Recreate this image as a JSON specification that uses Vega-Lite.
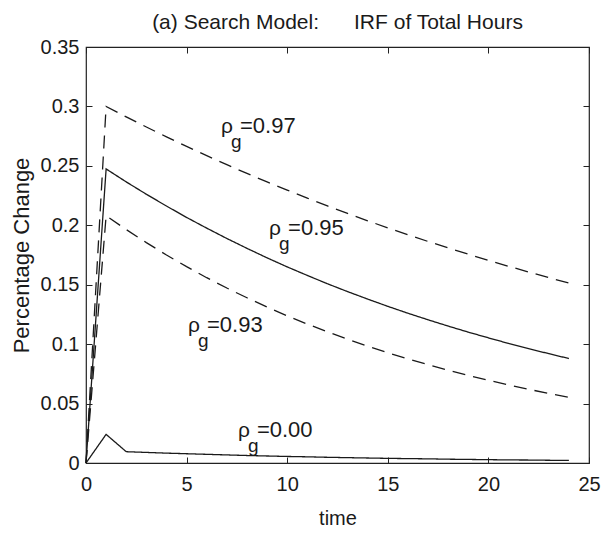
{
  "$schema": "https://vega.github.io/schema/vega-lite/v6.json",
  "width": 503,
  "height": 416,
  "autosize": {"type": "none"},
  "padding": {"left": 86, "top": 47, "right": 13, "bottom": 73},
  "background": "white",
  "title": {
    "text": "(a) Search Model:\u00a0\u00a0\u00a0\u00a0\u00a0\u00a0IRF of Total Hours",
    "fontSize": 21,
    "font": "Liberation Sans",
    "fontWeight": "normal",
    "color": "#1a1a1a",
    "offset": 4,
    "anchor": "middle"
  },
  "config": {
    "view": {"stroke": "#222222", "strokeWidth": 1.2},
    "axis": {
      "grid": false,
      "domain": false,
      "labelFlush": false,
      "tickColor": "#222222",
      "tickWidth": 1,
      "tickSize": -6,
      "labelFont": "Liberation Sans",
      "labelFontSize": 20,
      "labelColor": "#1a1a1a",
      "titleFont": "Liberation Sans",
      "titleFontSize": 20,
      "titleFontWeight": "normal",
      "titleColor": "#1a1a1a"
    },
    "text": {"font": "Liberation Sans", "color": "#1a1a1a"}
  },
  "datasets": {
    "irf": [
      {"t": 0, "v": 0, "rho": "0.97", "style": "dashed"},
      {"t": 1, "v": 0.3000, "rho": "0.97", "style": "dashed"},
      {"t": 2, "v": 0.2912, "rho": "0.97", "style": "dashed"},
      {"t": 3, "v": 0.2827, "rho": "0.97", "style": "dashed"},
      {"t": 4, "v": 0.2744, "rho": "0.97", "style": "dashed"},
      {"t": 5, "v": 0.2664, "rho": "0.97", "style": "dashed"},
      {"t": 6, "v": 0.2586, "rho": "0.97", "style": "dashed"},
      {"t": 7, "v": 0.2510, "rho": "0.97", "style": "dashed"},
      {"t": 8, "v": 0.2436, "rho": "0.97", "style": "dashed"},
      {"t": 9, "v": 0.2365, "rho": "0.97", "style": "dashed"},
      {"t": 10, "v": 0.2296, "rho": "0.97", "style": "dashed"},
      {"t": 11, "v": 0.2228, "rho": "0.97", "style": "dashed"},
      {"t": 12, "v": 0.2163, "rho": "0.97", "style": "dashed"},
      {"t": 13, "v": 0.2100, "rho": "0.97", "style": "dashed"},
      {"t": 14, "v": 0.2038, "rho": "0.97", "style": "dashed"},
      {"t": 15, "v": 0.1978, "rho": "0.97", "style": "dashed"},
      {"t": 16, "v": 0.1920, "rho": "0.97", "style": "dashed"},
      {"t": 17, "v": 0.1864, "rho": "0.97", "style": "dashed"},
      {"t": 18, "v": 0.1810, "rho": "0.97", "style": "dashed"},
      {"t": 19, "v": 0.1757, "rho": "0.97", "style": "dashed"},
      {"t": 20, "v": 0.1705, "rho": "0.97", "style": "dashed"},
      {"t": 21, "v": 0.1655, "rho": "0.97", "style": "dashed"},
      {"t": 22, "v": 0.1607, "rho": "0.97", "style": "dashed"},
      {"t": 23, "v": 0.1560, "rho": "0.97", "style": "dashed"},
      {"t": 24, "v": 0.1514, "rho": "0.97", "style": "dashed"},
      {"t": 0, "v": 0, "rho": "0.95", "style": "solid"},
      {"t": 1, "v": 0.2474, "rho": "0.95", "style": "solid"},
      {"t": 2, "v": 0.2365, "rho": "0.95", "style": "solid"},
      {"t": 3, "v": 0.2261, "rho": "0.95", "style": "solid"},
      {"t": 4, "v": 0.2162, "rho": "0.95", "style": "solid"},
      {"t": 5, "v": 0.2066, "rho": "0.95", "style": "solid"},
      {"t": 6, "v": 0.1976, "rho": "0.95", "style": "solid"},
      {"t": 7, "v": 0.1889, "rho": "0.95", "style": "solid"},
      {"t": 8, "v": 0.1806, "rho": "0.95", "style": "solid"},
      {"t": 9, "v": 0.1726, "rho": "0.95", "style": "solid"},
      {"t": 10, "v": 0.1650, "rho": "0.95", "style": "solid"},
      {"t": 11, "v": 0.1578, "rho": "0.95", "style": "solid"},
      {"t": 12, "v": 0.1508, "rho": "0.95", "style": "solid"},
      {"t": 13, "v": 0.1442, "rho": "0.95", "style": "solid"},
      {"t": 14, "v": 0.1379, "rho": "0.95", "style": "solid"},
      {"t": 15, "v": 0.1318, "rho": "0.95", "style": "solid"},
      {"t": 16, "v": 0.1260, "rho": "0.95", "style": "solid"},
      {"t": 17, "v": 0.1205, "rho": "0.95", "style": "solid"},
      {"t": 18, "v": 0.1152, "rho": "0.95", "style": "solid"},
      {"t": 19, "v": 0.1101, "rho": "0.95", "style": "solid"},
      {"t": 20, "v": 0.1053, "rho": "0.95", "style": "solid"},
      {"t": 21, "v": 0.1006, "rho": "0.95", "style": "solid"},
      {"t": 22, "v": 0.0962, "rho": "0.95", "style": "solid"},
      {"t": 23, "v": 0.0920, "rho": "0.95", "style": "solid"},
      {"t": 24, "v": 0.0879, "rho": "0.95", "style": "solid"},
      {"t": 0, "v": 0, "rho": "0.93", "style": "dashed"},
      {"t": 1, "v": 0.2080, "rho": "0.93", "style": "dashed"},
      {"t": 2, "v": 0.1964, "rho": "0.93", "style": "dashed"},
      {"t": 3, "v": 0.1854, "rho": "0.93", "style": "dashed"},
      {"t": 4, "v": 0.1750, "rho": "0.93", "style": "dashed"},
      {"t": 5, "v": 0.1652, "rho": "0.93", "style": "dashed"},
      {"t": 6, "v": 0.1559, "rho": "0.93", "style": "dashed"},
      {"t": 7, "v": 0.1472, "rho": "0.93", "style": "dashed"},
      {"t": 8, "v": 0.1390, "rho": "0.93", "style": "dashed"},
      {"t": 9, "v": 0.1312, "rho": "0.93", "style": "dashed"},
      {"t": 10, "v": 0.1238, "rho": "0.93", "style": "dashed"},
      {"t": 11, "v": 0.1169, "rho": "0.93", "style": "dashed"},
      {"t": 12, "v": 0.1104, "rho": "0.93", "style": "dashed"},
      {"t": 13, "v": 0.1042, "rho": "0.93", "style": "dashed"},
      {"t": 14, "v": 0.0983, "rho": "0.93", "style": "dashed"},
      {"t": 15, "v": 0.0928, "rho": "0.93", "style": "dashed"},
      {"t": 16, "v": 0.0876, "rho": "0.93", "style": "dashed"},
      {"t": 17, "v": 0.0827, "rho": "0.93", "style": "dashed"},
      {"t": 18, "v": 0.0781, "rho": "0.93", "style": "dashed"},
      {"t": 19, "v": 0.0737, "rho": "0.93", "style": "dashed"},
      {"t": 20, "v": 0.0696, "rho": "0.93", "style": "dashed"},
      {"t": 21, "v": 0.0657, "rho": "0.93", "style": "dashed"},
      {"t": 22, "v": 0.0620, "rho": "0.93", "style": "dashed"},
      {"t": 23, "v": 0.0585, "rho": "0.93", "style": "dashed"},
      {"t": 24, "v": 0.0553, "rho": "0.93", "style": "dashed"},
      {"t": 0, "v": 0, "rho": "0.00", "style": "solid"},
      {"t": 1, "v": 0.0241, "rho": "0.00", "style": "solid"},
      {"t": 2, "v": 0.0095, "rho": "0.00", "style": "solid"},
      {"t": 3, "v": 0.0089, "rho": "0.00", "style": "solid"},
      {"t": 4, "v": 0.0083, "rho": "0.00", "style": "solid"},
      {"t": 5, "v": 0.0078, "rho": "0.00", "style": "solid"},
      {"t": 6, "v": 0.0073, "rho": "0.00", "style": "solid"},
      {"t": 7, "v": 0.0068, "rho": "0.00", "style": "solid"},
      {"t": 8, "v": 0.0063, "rho": "0.00", "style": "solid"},
      {"t": 9, "v": 0.0059, "rho": "0.00", "style": "solid"},
      {"t": 10, "v": 0.0055, "rho": "0.00", "style": "solid"},
      {"t": 11, "v": 0.0052, "rho": "0.00", "style": "solid"},
      {"t": 12, "v": 0.0048, "rho": "0.00", "style": "solid"},
      {"t": 13, "v": 0.0045, "rho": "0.00", "style": "solid"},
      {"t": 14, "v": 0.0042, "rho": "0.00", "style": "solid"},
      {"t": 15, "v": 0.0039, "rho": "0.00", "style": "solid"},
      {"t": 16, "v": 0.0037, "rho": "0.00", "style": "solid"},
      {"t": 17, "v": 0.0035, "rho": "0.00", "style": "solid"},
      {"t": 18, "v": 0.0032, "rho": "0.00", "style": "solid"},
      {"t": 19, "v": 0.0030, "rho": "0.00", "style": "solid"},
      {"t": 20, "v": 0.0028, "rho": "0.00", "style": "solid"},
      {"t": 21, "v": 0.0026, "rho": "0.00", "style": "solid"},
      {"t": 22, "v": 0.0025, "rho": "0.00", "style": "solid"},
      {"t": 23, "v": 0.0023, "rho": "0.00", "style": "solid"},
      {"t": 24, "v": 0.0022, "rho": "0.00", "style": "solid"}
    ],
    "labels": [
      {"rho": "0.97", "t": 6.71, "v": 0.2776, "txt": "=0.97"},
      {"rho": "0.95", "t": 9.1, "v": 0.1918, "txt": "=0.95"},
      {"rho": "0.93", "t": 5.07, "v": 0.1102, "txt": "=0.93"},
      {"rho": "0.00", "t": 7.55, "v": 0.0219, "txt": "=0.00"}
    ]
  },
  "layer": [
    {
      "data": {"name": "irf"},
      "mark": {"type": "line", "color": "#1a1a1a", "strokeWidth": 1.3},
      "encoding": {
        "x": {
          "field": "t", "type": "quantitative",
          "scale": {"domain": [0, 25], "nice": false, "zero": false},
          "axis": {"values": [0, 5, 10, 15, 20, 25], "title": "time", "labelPadding": 17, "titlePadding": 14}
        },
        "y": {
          "field": "v", "type": "quantitative",
          "scale": {"domain": [0, 0.35], "nice": false},
          "axis": {"values": [0, 0.05, 0.1, 0.15, 0.2, 0.25, 0.3, 0.35], "format": ".2~f", "title": "Percentage Change", "titleFontSize": 22, "labelPadding": 13, "titlePadding": 7}
        },
        "detail": {"field": "rho"},
        "strokeDash": {
          "field": "style", "type": "nominal",
          "scale": {"domain": ["solid", "dashed"], "range": [[1, 0], [13, 8]]},
          "legend": null
        }
      }
    },
    {
      "data": {"name": "labels"},
      "mark": {"type": "text", "text": "ρ", "align": "left", "baseline": "alphabetic", "fontSize": 21},
      "encoding": {
        "x": {"field": "t", "type": "quantitative", "axis": {"orient": "top", "values": [0, 5, 10, 15, 20, 25], "labels": false, "title": null}},
        "y": {"field": "v", "type": "quantitative", "axis": {"orient": "right", "values": [0, 0.05, 0.1, 0.15, 0.2, 0.25, 0.3, 0.35], "labels": false, "title": null}}
      }
    },
    {
      "data": {"name": "labels"},
      "mark": {"type": "text", "text": "g", "align": "left", "baseline": "alphabetic", "fontSize": 19, "dx": 10, "dy": 15},
      "encoding": {
        "x": {"field": "t", "type": "quantitative", "axis": null},
        "y": {"field": "v", "type": "quantitative", "axis": null}
      }
    },
    {
      "data": {"name": "labels"},
      "mark": {"type": "text", "align": "left", "baseline": "alphabetic", "fontSize": 22, "dx": 19},
      "encoding": {
        "x": {"field": "t", "type": "quantitative", "axis": null},
        "y": {"field": "v", "type": "quantitative", "axis": null},
        "text": {"field": "txt"}
      }
    }
  ],
  "resolve": {"axis": {"x": "independent", "y": "independent"}}
}
